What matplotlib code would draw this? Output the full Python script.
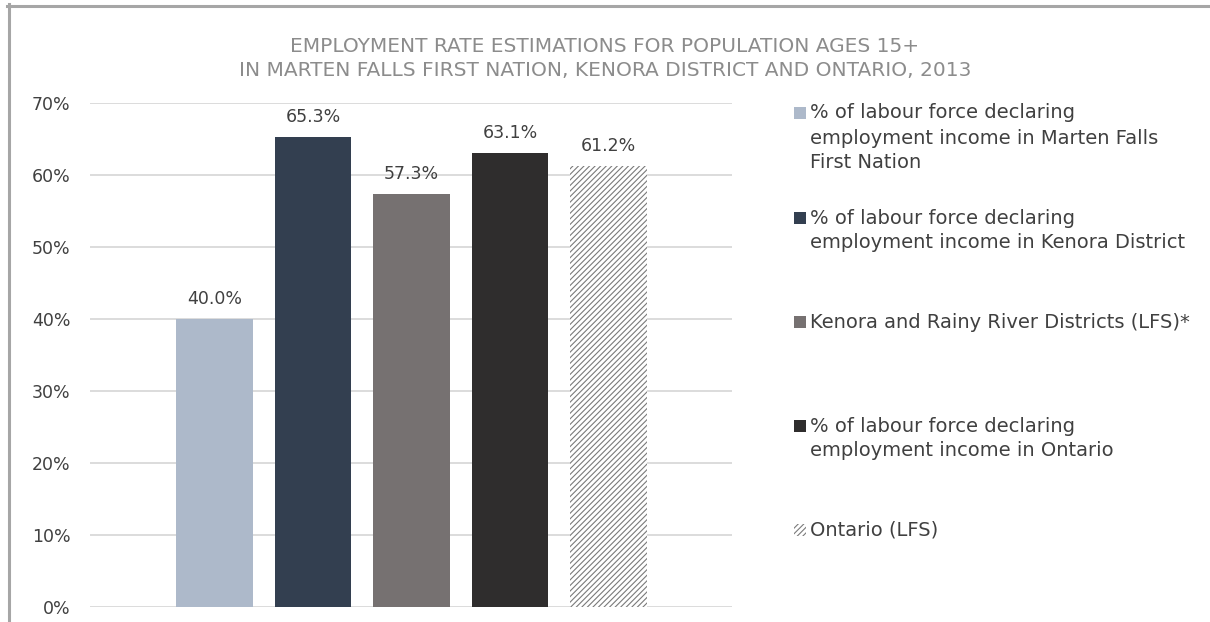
#!/usr/bin/env python3

import matplotlib
matplotlib.use('Agg')
import matplotlib.pyplot as plt
from matplotlib.lines import Line2D
from matplotlib.patches import Rectangle
from matplotlib.ticker import FuncFormatter

plt.rcParams['font.family'] = ['DejaVu Sans']
plt.rcParams['hatch.linewidth'] = 0.8

"""data read off the picture"""
series = ['% of labour force declaring\nemployment income in Marten Falls\nFirst Nation',
          '% of labour force declaring\nemployment income in Kenora District',
          'Kenora and Rainy River Districts (LFS)*',
          '% of labour force declaring\nemployment income in Ontario',
          'Ontario (LFS)']
values = [40.0, 65.3, 57.3, 63.1, 61.2]
colors = ['#ADB9CA', '#333F50', '#767171', '#2F2D2D', 'white']
hatches = [None, None, None, None, '//////']
yticks = [0, 10, 20, 30, 40, 50, 60, 70]
title_lines = ['EMPLOYMENT RATE ESTIMATIONS FOR POPULATION AGES 15+',
               'IN MARTEN FALLS FIRST NATION, KENORA DISTRICT AND ONTARIO, 2013']

W, H = 1210, 622
fig = plt.figure(figsize=(W/100, H/100), dpi=100)

def fx(px):
    return px / W

def fy(py):
    return 1 - py / H

ax = fig.add_axes([fx(90), fy(607), fx(732) - fx(90), fy(103) - fy(607)])

x = list(range(len(values)))
bars = ax.bar(x, values, width=0.78, color=colors, linewidth=0, zorder=3)
for b, h in zip(bars, hatches):
    if h:
        b.set_hatch(h)
        b.set_edgecolor('#7A7A7A')

for xi, v in zip(x, values):
    ax.annotate('{:.1f}%'.format(v), (xi, v), xytext=(0, 8), textcoords='offset points',
                ha='center', va='bottom', fontsize=12.5, color='#404040')

ax.set_xlim(-1.264, 5.254)
ax.set_ylim(0, 70)
ax.set_yticks(yticks)
ax.yaxis.set_major_formatter(FuncFormatter(lambda v, p: '{:.0f}%'.format(v)))
ax.set_xticks([])
ax.tick_params(axis='y', length=0, pad=14, labelsize=12.5, labelcolor='#404040')
for s in ax.spines.values():
    s.set_visible(False)
ax.grid(axis='y', color='#D9D9D9', linewidth=1.3, zorder=0)

"""title, one text per line"""
for i, line in enumerate(title_lines):
    fig.text(fx(605), fy(47 + 23 * i), line, ha='center', va='center', fontsize=14.5,
             color='#8C8C8C')

"""legend drawn by hand to keep the uneven spacing"""
first_line_y = [113, 218, 322, 426, 530]
line_step = 25
for lab, c, h, ty in zip(series, colors, hatches, first_line_y):
    r = Rectangle((fx(794), fy(ty + 6)), fx(12), fy(0) - fy(12),
                  transform=fig.transFigure, facecolor=c, linewidth=0)
    if h:
        r.set_hatch(h)
        r.set_edgecolor('#7A7A7A')
    fig.add_artist(r)
    for j, part in enumerate(lab.split('\n')):
        fig.text(fx(810), fy(ty + line_step * j), part, ha='left', va='center',
                 fontsize=14, color='#404040')

"""gray frame at top and left"""
fig.add_artist(Line2D([fx(7), 1], [fy(5.5), fy(5.5)], transform=fig.transFigure,
                      color='#A6A6A6', linewidth=2.2))
fig.add_artist(Line2D([fx(8.5), fx(8.5)], [0, fy(4)], transform=fig.transFigure,
                      color='#A6A6A6', linewidth=2.2))

plt.savefig('out.png', dpi=100)
